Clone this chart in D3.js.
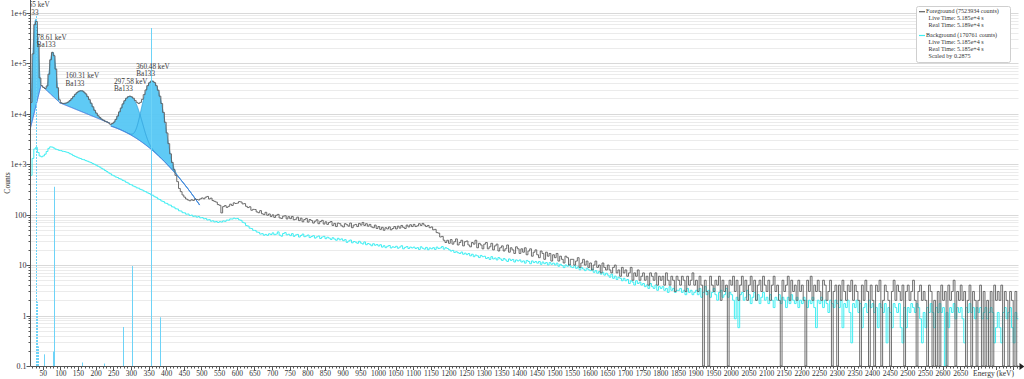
<!DOCTYPE html>
<html>
<head>
<meta charset="utf-8">
<script src="https://cdn.jsdelivr.net/npm/d3@7"></script>
<style>
  body { margin: 0; background: #fff; }
  svg text { font-family: "Liberation Serif", "Times New Roman", serif; }
</style>
</head>
<body>
<div id="chart"></div>
<script>
// Channel layout: lower edge of first channel and width (keV)
const chanStart = 15, chanWidth = 5;

// Foreground counts per channel (first row 15-95 keV, then rows of 50 keV)
const foreground = [
  16700, 153000, 583000, 671000, 240000, 51000, 35800, 33100, 31600, 35400, 60500, 117000, 164000, 141000, 76500, 32700, 18900,
  16450, 15900, 16050, 16300, 17000, 18150, 19850, 21800, 24200, 26100,
  27800, 28400, 28300, 26800, 24700, 21800, 19000, 16100, 13700, 11650,
  10250, 9100, 8380, 7800, 7450, 7080, 6870, 6550, 6150, 6380,
  6800, 7700, 8950, 10850, 12950, 15600, 18050, 20250, 21650, 22200,
  21550, 20250, 18300, 16750, 15900, 16750, 19250, 23850, 29500, 35900,
  40900, 44200, 44000, 41300, 35800, 29100, 22200, 15900, 10600, 6750,
  4150, 2550, 1600, 1080, 780, 600, 450, 330, 285, 245,
  222, 204, 195, 188, 197, 191, 204, 199, 195, 205,
  214, 206, 221, 229, 204, 212, 190, 183, 177, 158,
  153, 108, 144, 151, 139, 146, 161, 152, 171, 166,
  169, 181, 178, 163, 165, 146, 138, 143, 122, 127,
  126, 113, 109, 120, 104, 100, 111, 97, 103, 92,
  99, 88, 97, 101, 86, 84, 93, 95, 82, 91,
  83, 92, 79, 81, 89, 76, 85, 72, 80, 84,
  71, 80, 76, 68, 74, 79, 66, 73, 77, 65,
  72, 64, 70, 73, 61, 67, 58, 68, 66, 60,
  57, 66, 63, 59, 68, 55, 62, 64, 58, 67,
  62, 70, 61, 66, 59, 64, 57, 55, 62, 53,
  58, 51, 56, 49, 55, 52, 57, 50, 53, 58,
  52, 59, 54, 61, 56, 53, 62, 57, 63, 58,
  64, 58, 60, 66, 61, 67, 62, 58, 61, 55,
  57, 50, 51, 44, 43, 36, 37, 31, 28, 31,
  27, 32, 26, 29, 33, 25, 28, 31, 24, 29,
  30, 25, 23, 28, 26, 31, 22, 27, 25, 21,
  26, 28, 21, 23, 27, 20, 24, 26, 19, 22,
  24, 19, 21, 25, 18, 22, 20, 17, 23, 21,
  17, 21, 18, 22, 16, 19, 21, 15, 18, 20,
  16, 14, 19, 17, 13, 18, 15, 17, 12, 16,
  14, 17, 12, 15, 13, 11, 15, 14, 10, 13,
  13, 10, 12, 14, 9, 11, 13, 10, 12, 9,
  11, 8, 10, 12, 9, 10, 7, 11, 9, 8,
  10, 8, 7, 9, 10, 7, 8, 6, 9, 7,
  8, 6, 7, 9, 5, 7, 6, 8, 5, 6,
  7, 5, 6, 4, 7, 6, 5, 7, 4, 6,
  5, 6, 4, 7, 5, 4, 6, 5, 3, 6,
  5, 4, 6, 5, 3, 6, 4, 5, 7, 4,
  5, 3, 6, 4, 0, 5, 3, 0, 6, 4,
  3, 5, 4, 6, 2, 5, 3, 4, 0, 5,
  4, 6, 3, 5, 2, 4, 6, 3, 5, 2,
  4, 6, 3, 5, 2, 4, 5, 3, 6, 4,
  3, 5, 2, 4, 6, 3, 4, 2, 0, 5,
  3, 4, 6, 2, 5, 3, 4, 2, 5, 3,
  4, 2, 0, 5, 3, 6, 2, 4, 3, 5,
  3, 2, 5, 4, 2, 3, 5, 0, 3, 4,
  0, 4, 2, 5, 3, 2, 4, 3, 5, 2,
  4, 3, 2, 0, 4, 2, 5, 3, 0, 4,
  2, 0, 4, 3, 5, 0, 2, 4, 3, 2,
  0, 3, 5, 2, 4, 3, 2, 4, 0, 3,
  4, 2, 3, 5, 2, 0, 3, 4, 2, 3,
  2, 0, 4, 3, 0, 2, 0, 3, 0, 4,
  2, 3, 0, 4, 2, 3, 5, 0, 3, 2,
  4, 2, 3, 0, 2, 4, 0, 3, 2, 0,
  2, 4, 0, 3, 0, 2, 0, 3, 0, 4,
  2, 3, 2, 4, 0, 3, 2, 0, 3, 2,
  0, 3, 0
];

// Background raw counts per channel (same layout), drawn scaled
const backgroundRaw = [
  2090, 4520, 6960, 7480, 5910, 5050, 4860, 5060, 5480, 6200, 7140, 7660, 7570, 7250, 6900, 6730, 6520,
  6440, 6250, 6180, 6030, 5890, 5610, 5450, 5140, 4960, 4790,
  4620, 4510, 4330, 4260, 4090, 3980, 3850, 3730, 3570, 3450,
  3310, 3160, 3040, 2880, 2760, 2600, 2480, 2340, 2240, 2110,
  2040, 1940, 1890, 1800, 1750, 1660, 1610, 1520, 1470, 1380,
  1350, 1280, 1240, 1180, 1160, 1100, 1070, 1020, 990, 940,
  910, 862, 841, 787, 765, 712, 692, 648, 631, 590,
  580, 543, 535, 497, 489, 455, 448, 414, 409, 380,
  377, 355, 357, 334, 340, 321, 326, 310, 318, 300,
  304, 287, 290, 272, 276, 258, 262, 249, 254, 243,
  252, 248, 261, 256, 271, 270, 286, 284, 296, 288,
  292, 274, 268, 245, 237, 211, 206, 187, 184, 170,
  169, 157, 155, 143, 146, 136, 141, 135, 145, 140,
  151, 139, 143, 158, 136, 130, 147, 153, 138, 142,
  133, 146, 129, 137, 141, 125, 134, 143, 127, 131,
  137, 122, 128, 133, 119, 126, 131, 117, 125, 129,
  116, 124, 119, 112, 121, 114, 108, 118, 110, 115,
  106, 111, 98, 104, 109, 96, 102, 99, 94, 103,
  95, 91, 100, 88, 93, 90, 84, 92, 86, 89,
  83, 88, 79, 84, 77, 82, 85, 76, 80, 78,
  82, 75, 79, 84, 73, 78, 81, 74, 79, 76,
  79, 74, 77, 71, 80, 75, 72, 78, 70, 76,
  73, 77, 71, 79, 74, 76, 81, 72, 77, 74,
  70, 66, 68, 62, 64, 61, 59, 63, 57, 60,
  56, 59, 53, 57, 51, 55, 53, 49, 54, 51,
  52, 47, 49, 45, 51, 46, 48, 44, 49, 46,
  43, 47, 44, 41, 46, 43, 45, 40, 44, 42,
  44, 40, 42, 38, 43, 41, 37, 42, 39, 41,
  38, 41, 36, 40, 37, 39, 35, 39, 36, 38,
  35, 38, 33, 36, 34, 31, 35, 33, 36, 32,
  31, 34, 30, 32, 28, 31, 29, 27, 30, 28,
  27, 29, 25, 27, 24, 26, 23, 25, 22, 24,
  22, 20, 23, 19, 21, 18, 20, 19, 17, 19,
  17, 18, 15, 17, 16, 14, 17, 15, 16, 14,
  15, 13, 14, 12, 15, 13, 12, 14, 11, 13,
  12, 13, 11, 12, 10, 13, 11, 12, 10, 11,
  11, 12, 10, 11, 9, 12, 10, 11, 9, 10,
  11, 9, 12, 8, 10, 13, 9, 11, 8, 10,
  12, 9, 7, 10, 11, 8, 9, 12, 8, 10,
  9, 7, 3, 8, 2, 9, 10, 7, 8, 11,
  9, 6, 8, 10, 7, 9, 6, 8, 10, 7,
  8, 6, 9, 7, 5, 8, 7, 9, 6, 8,
  7, 5, 8, 6, 9, 7, 6, 8, 5, 7,
  6, 8, 7, 5, 7, 6, 8, 5, 2, 7,
  6, 8, 5, 7, 6, 4, 7, 6, 5, 7,
  6, 5, 7, 2, 6, 5, 7, 4, 1, 6,
  5, 7, 4, 6, 2, 5, 6, 4, 7, 5,
  6, 4, 5, 2, 6, 5, 4, 6, 1, 5,
  4, 2, 6, 5, 4, 6, 2, 1, 5, 2,
  5, 4, 6, 5, 4, 6, 5, 3, 1, 4,
  2, 5, 4, 6, 4, 2, 5, 4, 6, 4,
  5, 0, 4, 2, 5, 4, 6, 3, 5, 4,
  5, 3, 1, 5, 4, 6, 4, 5, 3, 5,
  4, 5, 3, 4, 5, 3, 4, 5, 4, 1,
  2, 4, 2, 1, 4, 5, 3, 4, 5, 2,
  1, 4, 3
];
const backgroundScale = 0.2875;

// Peak fit regions: range, continuum as log10 polynomial around roiRef
const roiLower = [15, 45, 97, 243];
const roiUpper = [45, 97, 240, 495];
const roiRef = [15, 45, 97, 300];
const roiC0 = [3.70, 4.57, 4.22, 3.577];
const roiC1 = [0.02833, -0.00655, -0.00285, -0.004026];
const roiC2 = [0, 0, 0, -1.585e-5];

// Fitted peaks
const peakMean = [30.55, 78.61, 160.31, 297.58, 360.48];
const peakSigma = [4.5, 6.5, 20, 20, 18];
const peakAmp = [720000, 144000, 17500, 18200, 42500];
const peakRoi = [0, 1, 2, 3, 3];
const peakNuclide = ['Ba133', 'Ba133', 'Ba133', 'Ba133', 'Ba133'];

// Reference lines (Ba133): energy, relative intensity
const refEnergy = [53.16, 79.61, 81.0, 160.61, 223.24, 276.4, 302.85, 356.01, 383.85];
const refIntensity = [2.14, 2.65, 32.9, 0.64, 0.45, 7.16, 18.34, 62.05, 8.94];
const xrayEnergy = [30.63, 30.97, 34.99, 35.82];
const xrayIntensity = [34.9, 64.5, 11.8, 3.6];

const yTickValues = [0.1, 1, 10, 100, 1e3, 1e4, 1e5, 1e6];
const yTickLabels = ['0.1', '1', '10', '100', '1e+3', '1e+4', '1e+5', '1e+6'];

const legendLines = [
  { text: 'Foreground (7523934 counts)', swatch: 'fg' },
  { text: 'Live Time: 5.185e+4 s' },
  { text: 'Real Time: 5.189e+4 s' },
  { text: 'Background (170761 counts)', swatch: 'bg' },
  { text: 'Live Time: 5.185e+4 s' },
  { text: 'Real Time: 5.185e+4 s' },
  { text: 'Scaled by 0.2875' }
];

const fgColor = '#5e5e5e', bgColor = '#3feef2';
const peakFill = '#56c7f4', peakStroke = '#2f9fdb', contColor = '#3f73dd', refColor = '#6dd3f7';

const width = 1024, height = 379;
const pl = 30.5, pr = 1018.5, pt = 0, pb = 366;

const svg = d3.select('#chart').append('svg')
  .attr('width', width).attr('height', height);

const x = d3.scaleLinear().domain([15.6, 2815]).range([pl, pr]);
const y = d3.scaleLog().domain([0.1, 1.79e6]).range([pb, pt]).clamp(true);

svg.append('defs').append('clipPath').attr('id', 'plotclip')
  .append('rect').attr('x', pl).attr('y', pt)
  .attr('width', pr - pl).attr('height', pb - pt);

// Horizontal grid lines (decades and minor)
const gridVals = [];
for (let d = -1; d <= 6; d++) {
  for (let m = 1; m <= 9; m++) {
    const v = m * Math.pow(10, d);
    if (v <= 1.79e6) gridVals.push({ v, major: m === 1 });
  }
}
svg.append('g').selectAll('line').data(gridVals).join('line')
  .attr('x1', pl).attr('x2', pr)
  .attr('y1', d => Math.round(y(d.v)) + 0.5).attr('y2', d => Math.round(y(d.v)) + 0.5)
  .attr('stroke', d => d.major ? '#d9d9d9' : '#ebebeb')
  .attr('stroke-width', 1);

const plot = svg.append('g').attr('clip-path', 'url(#plotclip)');

// Histogram step line
function stepPoints(values, scale) {
  const pts = values.map((v, i) => [chanStart + i * chanWidth, v * scale]);
  pts.push([chanStart + values.length * chanWidth, values[values.length - 1] * scale]);
  return pts;
}
const stepLine = d3.line()
  .x(d => x(d[0]))
  .y(d => y(Math.max(d[1], 0.01)))
  .curve(d3.curveStepAfter);

plot.append('path')
  .attr('d', stepLine(stepPoints(backgroundRaw, backgroundScale)))
  .attr('fill', 'none').attr('stroke', bgColor).attr('stroke-width', 1);

// Peak models
const gauss = (e, i) => peakAmp[i] * Math.exp(-0.5 * Math.pow((e - peakMean[i]) / peakSigma[i], 2));
const cont = (e, r) => {
  const u = e - roiRef[r];
  return Math.pow(10, roiC0[r] + roiC1[r] * u + roiC2[r] * u * u);
};
function roiGrid(r) {
  return d3.range(roiLower[r], roiUpper[r] + 0.001, 0.5);
}

const peakArea = d3.area()
  .x(d => x(d.e)).y0(d => y(d.c)).y1(d => y(d.p));
const peakLine = d3.line().x(d => x(d.e)).y(d => y(d.p));

// fills
peakMean.forEach((m, i) => {
  const r = peakRoi[i];
  const pts = roiGrid(r).map(e => ({ e, c: cont(e, r), p: cont(e, r) + gauss(e, i) }));
  plot.append('path').attr('d', peakArea(pts))
    .attr('fill', peakFill).attr('fill-opacity', 0.95).attr('stroke', 'none');
});
// outlines
peakMean.forEach((m, i) => {
  const r = peakRoi[i];
  const pts = roiGrid(r).map(e => ({ e, c: cont(e, r), p: cont(e, r) + gauss(e, i) }));
  plot.append('path').attr('d', peakLine(pts))
    .attr('fill', 'none').attr('stroke', peakStroke).attr('stroke-width', 0.8);
});
// continuum
roiLower.forEach((lo, r) => {
  const pts = roiGrid(r).map(e => ({ e, p: cont(e, r) }));
  plot.append('path').attr('d', peakLine(pts))
    .attr('fill', 'none').attr('stroke', contColor).attr('stroke-width', 1);
});

// Foreground
plot.append('path')
  .attr('d', stepLine(stepPoints(foreground, 1)))
  .attr('fill', 'none').attr('stroke', fgColor).attr('stroke-width', 0.9);

// Reference lines
const refMax = d3.max(refIntensity);
const refH = 338;
plot.append('g').selectAll('line').data(refEnergy).join('line')
  .attr('x1', d => Math.round(x(d)) + 0.5).attr('x2', d => Math.round(x(d)) + 0.5)
  .attr('y1', pb).attr('y2', (d, i) => pb - refH * refIntensity[i] / refMax)
  .attr('stroke', refColor).attr('stroke-width', 1);
plot.append('g').selectAll('line').data(xrayEnergy).join('line')
  .attr('x1', d => Math.round(x(d)) + 0.5).attr('x2', d => Math.round(x(d)) + 0.5)
  .attr('y1', pb).attr('y2', (d, i) => pb - refH * xrayIntensity[i] / refMax)
  .attr('stroke', refColor).attr('stroke-width', 1).attr('stroke-dasharray', '2,1');

// Peak labels
peakMean.forEach((m, i) => {
  const r = peakRoi[i];
  let topVal = cont(m, r);
  peakMean.forEach((m2, j) => { if (peakRoi[j] === r) topVal += gauss(m, j); });
  const yt = y(topVal);
  const t = plot.append('text').attr('font-size', 7.2).attr('fill', '#3a3a3a');
  t.append('tspan').attr('x', x(m) - 16).attr('y', yt - 12.3).text(m.toFixed(2) + ' keV');
  t.append('tspan').attr('x', x(m) - 16).attr('y', yt - 5).text(peakNuclide[i]);
});

// Y axis
const axisColor = '#555';
svg.append('line').attr('x1', pl).attr('x2', pl).attr('y1', pt).attr('y2', pb)
  .attr('stroke', axisColor).attr('stroke-width', 1);
svg.append('g').selectAll('line').data(gridVals).join('line')
  .attr('x1', d => d.major ? pl - 4 : pl - 2).attr('x2', pl)
  .attr('y1', d => Math.round(y(d.v)) + 0.5).attr('y2', d => Math.round(y(d.v)) + 0.5)
  .attr('stroke', axisColor);
svg.append('g').selectAll('text').data(yTickValues).join('text')
  .attr('x', pl - 4).attr('y', d => y(d) + 3)
  .attr('text-anchor', 'end').attr('font-size', 8).attr('fill', '#333')
  .text((d, i) => yTickLabels[i]);
svg.append('text')
  .attr('transform', `translate(10, ${(pt + pb) / 2}) rotate(-90)`)
  .attr('text-anchor', 'middle').attr('font-size', 7.5).attr('fill', '#333')
  .text('Counts');

// X axis
svg.append('line').attr('x1', pl).attr('x2', pr + 2).attr('y1', pb + 0.5).attr('y2', pb + 0.5)
  .attr('stroke', axisColor);
const minorTicks = d3.range(20, 2811, 10);
svg.append('g').selectAll('line').data(minorTicks).join('line')
  .attr('x1', d => Math.round(x(d)) + 0.5).attr('x2', d => Math.round(x(d)) + 0.5)
  .attr('y1', pb).attr('y2', d => d % 50 === 0 ? pb + 4 : pb + 2.5)
  .attr('stroke', axisColor);
const labelTicks = d3.range(50, 2651, 50);
svg.append('g').selectAll('text').data(labelTicks).join('text')
  .attr('x', d => x(d) + 0.5).attr('y', pb + 10)
  .attr('text-anchor', 'middle').attr('font-size', 7.5).attr('fill', '#333')
  .text(d => d);
svg.append('path')
  .attr('d', `M${pr + 1},${pb - 3} L${pr + 6},${pb + 0.5} L${pr + 1},${pb + 4} Z`)
  .attr('fill', '#222');
svg.append('text').attr('x', 1014).attr('y', pb + 10)
  .attr('text-anchor', 'end').attr('font-size', 7.5).attr('fill', '#333')
  .text('Energy (keV)');

// Legend
const lg = svg.append('g');
lg.append('rect').attr('x', 916.5).attr('y', 6.5).attr('width', 94).attr('height', 56)
  .attr('rx', 2).attr('fill', '#fff').attr('stroke', '#cfcfcf');
const lineY = [13.2, 20, 27, 37, 44, 51, 57.8];
legendLines.forEach((d, i) => {
  if (d.swatch) {
    lg.append('line').attr('x1', 919).attr('x2', 925)
      .attr('y1', lineY[i] - 1.5).attr('y2', lineY[i] - 1.5)
      .attr('stroke', d.swatch === 'fg' ? fgColor : bgColor).attr('stroke-width', 1.2);
  }
  lg.append('text').attr('x', d.swatch ? 926 : 928.5).attr('y', lineY[i])
    .attr('font-size', 6.1).attr('fill', '#333').text(d.text);
});
</script>
</body>
</html>
